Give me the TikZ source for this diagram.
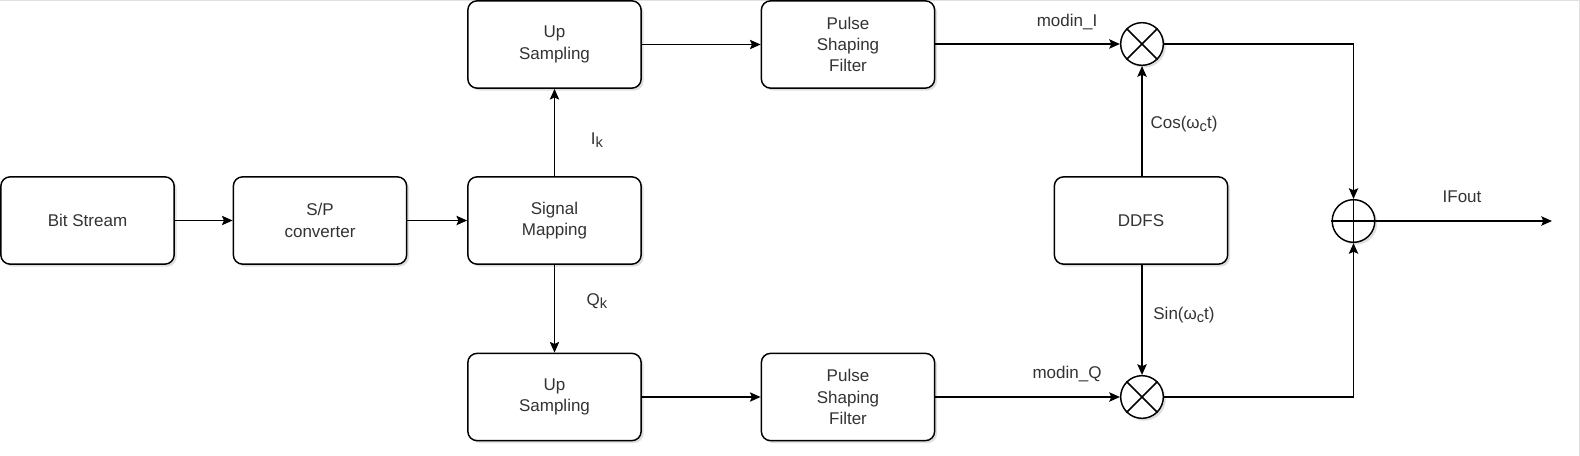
\documentclass[tikz,border=0pt]{standalone}
\usepackage{fontspec}
\setmainfont{Liberation Sans}
\usetikzlibrary{arrows.meta,shadows}
\definecolor{txt}{HTML}{333333}
\newcommand{\sub}[1]{\raisebox{-0.35ex}{\fontsize{11}{11}\selectfont #1}}
\begin{document}
\begin{tikzpicture}[x=0.75pt,y=-0.75pt,
  font=\fontsize{12.75}{16}\selectfont,
  shd/.style={drop shadow={shadow xshift=1.8pt,shadow yshift=-1.8pt,opacity=0.18,fill=black!70}},
  blk/.style={draw,line width=1.1pt,rounded corners=7pt,fill=white,minimum width=130pt,minimum height=65.5pt,inner sep=0pt,align=center,text=txt,shd},
  circ/.style={draw,circle,line width=1.1pt,fill=white,minimum size=32pt,inner sep=0pt,shd},
  arr/.style={line width=1.1pt,-{Stealth[length=8pt,width=7pt,inset=1.5pt]}},
  lbl/.style={text=txt,inner sep=0pt}]
\useasboundingbox (0,0) rectangle (1580,456);
\draw[black!12,line width=0.8pt] (0,0.5) -- (1579.5,0.5) -- (1579.5,456);
% boxes
\node[blk] (bs) at (87.5,220.5) {Bit Stream};
\node[blk] (sp) at (320,220.5) {S/P\\converter};
\node[blk] (sm) at (554.5,220.5) {Signal\\Mapping};
\node[blk] (up1) at (554.5,44.5) {Up\\Sampling};
\node[blk] (up2) at (554.5,397) {Up\\Sampling};
\node[blk] (ps1) at (848,44.5) {Pulse\\Shaping\\Filter};
\node[blk] (ps2) at (848,397) {Pulse\\Shaping\\Filter};
\node[blk] (dd) at (1141,220.5) {DDFS};
% circles
\node[circ] (m1) at (1142,44) {};
\draw[line width=1.1pt] (m1.north west) -- (m1.south east) (m1.north east) -- (m1.south west);
\node[circ] (m2) at (1142,397) {};
\draw[line width=1.1pt] (m2.north west) -- (m2.south east) (m2.north east) -- (m2.south west);
\node[circ] (ad) at (1353.5,221) {};
\draw[line width=1.1pt] (ad.north) -- (ad.south) (ad.west) -- (ad.east);
\coordinate (out) at (1552,221);
% connectors
\draw[arr] (bs) -- (sp);
\draw[arr] (sp) -- (sm);
\draw[arr] (sm) -- (up1);
\draw[arr] (sm) -- (up2);
\draw[arr] (up1) -- (ps1);
\draw[arr] (up2) -- (ps2);
\draw[arr] (ps1.east |- m1) -- (m1);
\draw[arr] (ps2.east |- m2) -- (m2);
\draw[arr] (m1 |- dd.north) -- (m1);
\draw[arr] (m2 |- dd.south) -- (m2);
\draw[arr] (m1) -| (ad);
\draw[arr] (m2) -| (ad);
\draw[arr] (ad) -- (out);
% labels
\node[lbl] (lik) at (597,140) {I\sub{k}};
\node[lbl] (lqk) at (597,301) {Q\sub{k}};
\node[lbl] (lmi) at (1067,22) {modin\_I};
\node[lbl] (lmq) at (1067,374) {modin\_Q};
\node[lbl] (lcos) at (1184,124) {Cos(ω\sub{c}t)};
\node[lbl] (lsin) at (1184,315) {Sin(ω\sub{c}t)};
\node[lbl] (lif) at (1462,197) {IFout};
\end{tikzpicture}
\end{document}
